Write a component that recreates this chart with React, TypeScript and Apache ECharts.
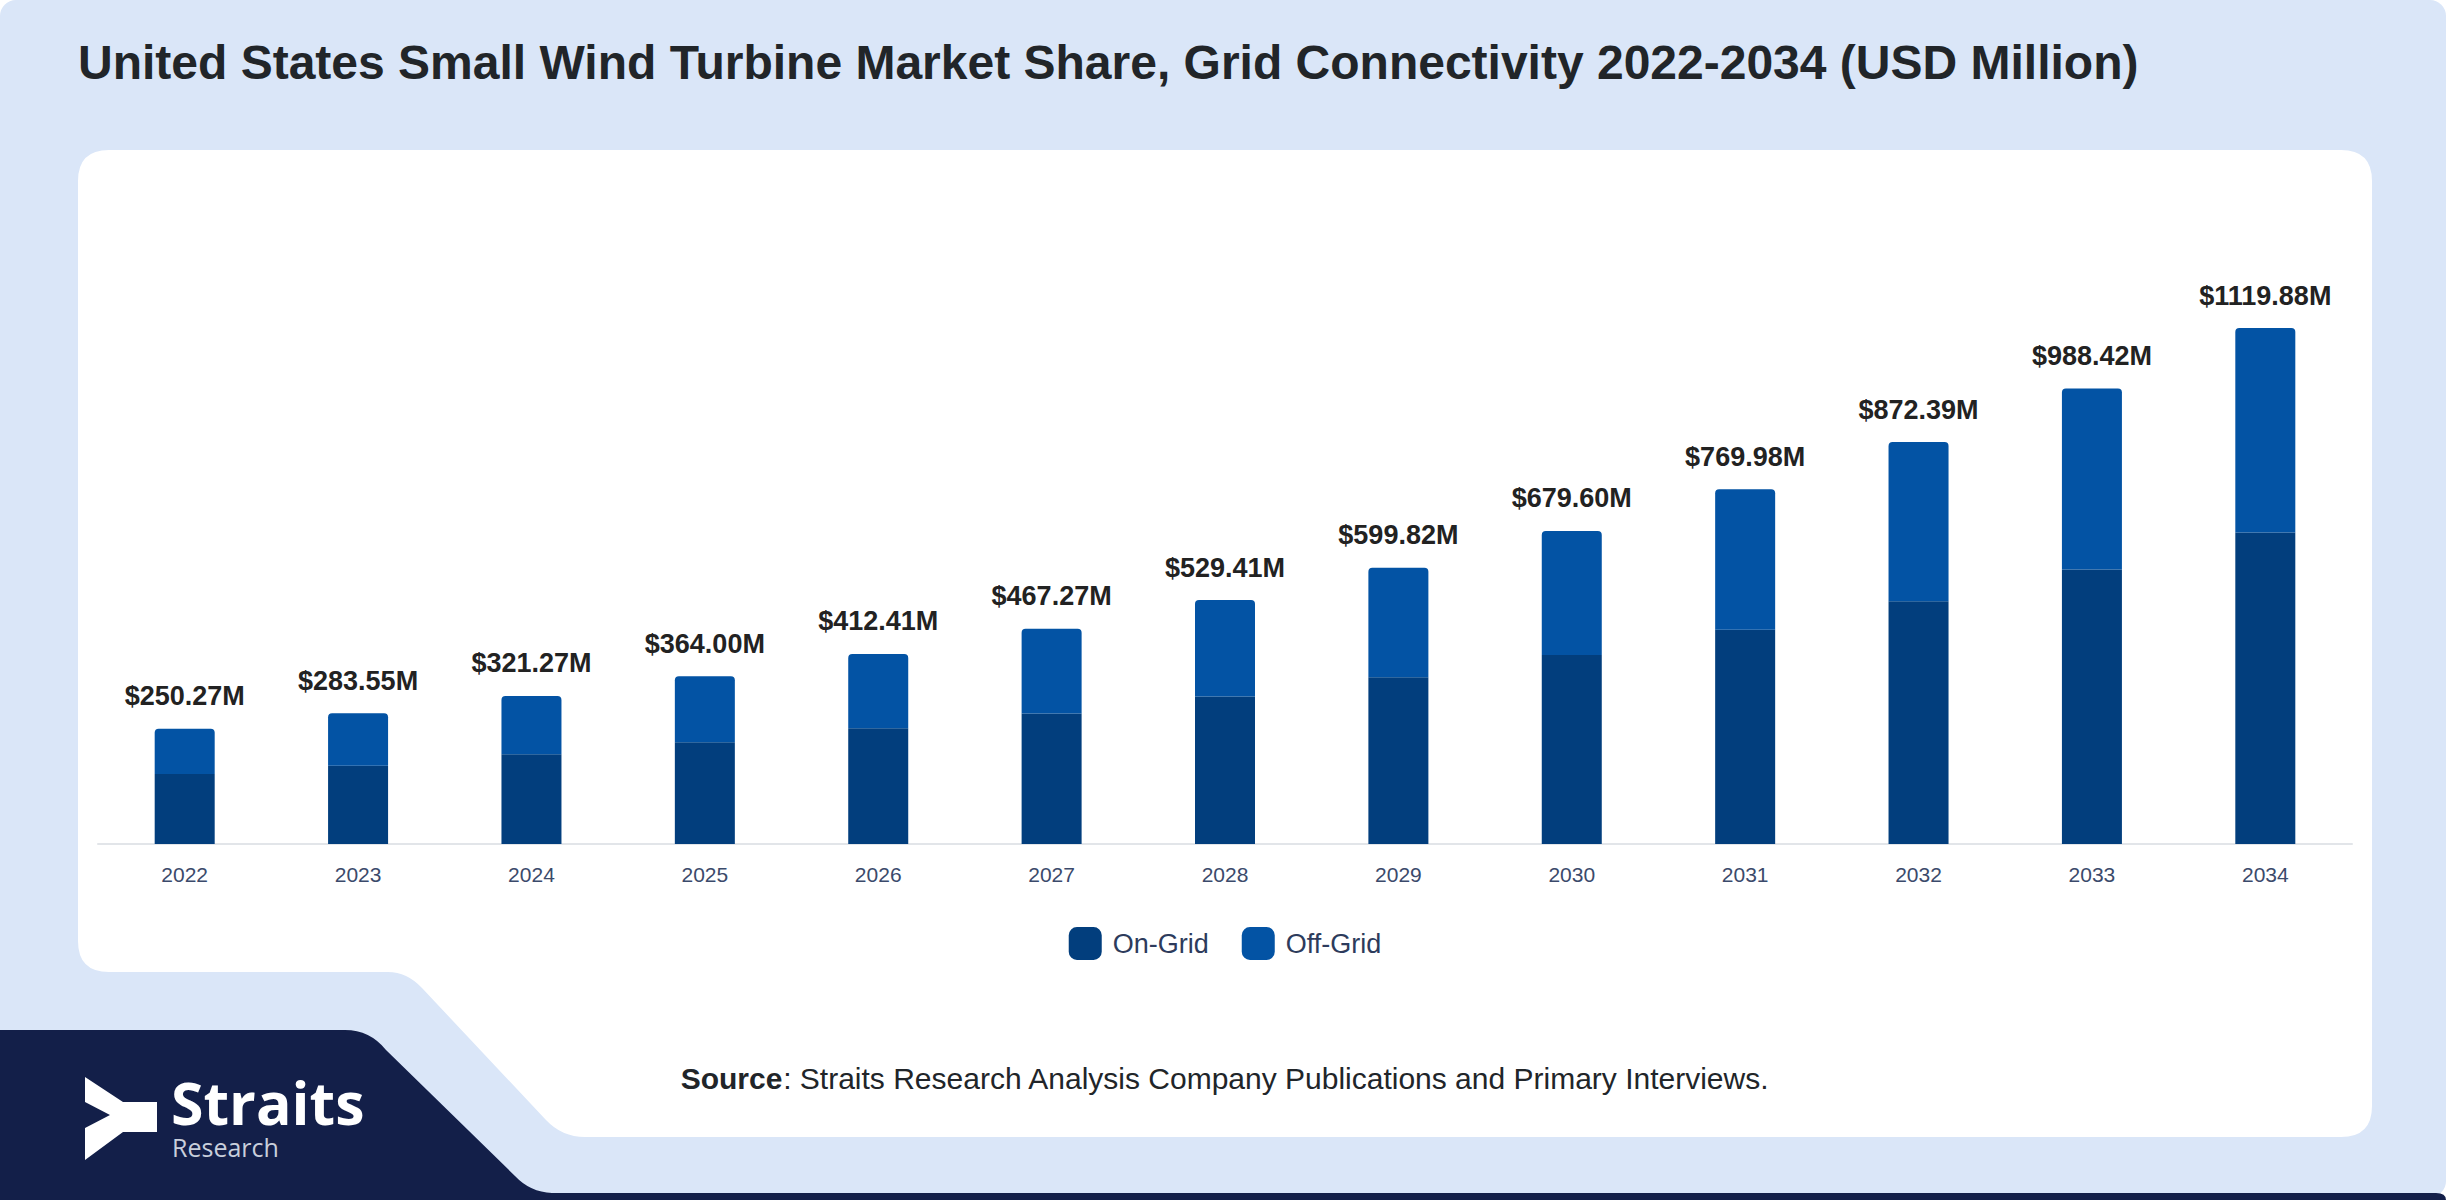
import React, { useEffect, useRef } from "react";
import * as echarts from "echarts";

const years = ["2022","2023","2024","2025","2026","2027","2028","2029","2030","2031","2032","2033","2034"];
const onGrid = [152, 170, 195, 221, 251, 283, 320, 362, 410, 465, 527, 596, 676];
const offGrid = [98.27, 113.55, 126.27, 143.0, 161.41, 184.27, 209.41, 237.82, 269.6, 304.98, 345.39, 392.42, 443.88];
const totals = ["$250.27M","$283.55M","$321.27M","$364.00M","$412.41M","$467.27M","$529.41M","$599.82M","$679.60M","$769.98M","$872.39M","$988.42M","$1119.88M"];
const seriesNames = ["On-Grid", "Off-Grid"];
const titleText = "United States Small Wind Turbine Market Share, Grid Connectivity 2022-2034 (USD Million)";
const sourceText = ": Straits Research Analysis Company Publications and Primary Interviews.";

const CARD_D = "M 109 150 H 2341 Q 2372 150 2372 181 V 1106 Q 2372 1137 2341 1137 H 585 Q 562 1137 546 1120 L 422 988 Q 407 972 388 972 H 109 Q 78 972 78 941 V 181 Q 78 150 109 150 Z";
const NAVY_D = "M 0 1030 H 345 Q 370 1030 386 1050 L 515 1176 Q 530 1192 552 1193 H 2436 Q 2446 1193 2446 1200 H 0 Z";
const ARROW_D = "M 85 1077 L 123 1102 L 157 1102 L 157 1132 L 123 1132 L 85 1160 L 85 1128 L 110 1115 L 85 1102 Z";

let registered = false;
function registerShapes() {
  if (registered) return;
  registered = true;
  echarts.graphic.registerShape("cardShape", echarts.graphic.extendPath(CARD_D, {}));
  echarts.graphic.registerShape("navyShape", echarts.graphic.extendPath(NAVY_D, {}));
  echarts.graphic.registerShape("arrowShape", echarts.graphic.extendPath(ARROW_D, {}));
}

export default function App() {
  const ref = useRef<HTMLDivElement>(null);
  useEffect(() => {
    document.body.style.margin = "0";
    registerShapes();
    const chart = echarts.init(ref.current!, null, { renderer: "svg" });
    chart.setOption({
      animation: false,
      backgroundColor: "#ffffff",
      textStyle: { fontFamily: "Liberation Sans, Arial, sans-serif" },
      graphic: [
        { type: "rect", z: 0, shape: { x: 0, y: 0, width: 2446, height: 1197, r: 16 }, style: { fill: "#dae6f8" } },
        { type: "cardShape", z: 0, x: 0, y: 0, style: { fill: "#ffffff" } },
        { type: "navyShape", z: 0, x: 0, y: 0, style: { fill: "#131f49" } },
        { type: "arrowShape", z: 0, x: 0, y: 0, style: { fill: "#ffffff" } },
        {
          type: "text", z: 0, x: 171, y: 1102,
          style: { text: "Straits", fontFamily: "Open Sans, sans-serif", fontWeight: "bold", fontSize: 59, lineHeight: 46, fill: "#ffffff", align: "left", verticalAlign: "middle" },
        },
        {
          type: "text", z: 0, x: 172, y: 1147,
          style: { text: "Research", fontFamily: "Open Sans, sans-serif", fontSize: 25, lineHeight: 20, fill: "#c9cfdc", align: "left", verticalAlign: "middle" },
        },
        {
          type: "text", z: 0, x: 78, y: 62,
          style: { text: titleText, fontFamily: "Liberation Sans, Arial, sans-serif", fontWeight: "bold", fontSize: 48, fill: "#212529", align: "left", verticalAlign: "middle" },
        },
        {
          type: "text", z: 0, x: 1225, y: 1078,
          style: {
            text: "{b|Source}{n|" + sourceText + "}",
            align: "center", verticalAlign: "middle",
            rich: {
              b: { fontFamily: "Liberation Sans, Arial, sans-serif", fontWeight: "bold", fontSize: 30, fill: "#212529", color: "#212529" },
              n: { fontFamily: "Liberation Sans, Arial, sans-serif", fontSize: 30, fill: "#212529", color: "#212529" },
            },
          },
        },
      ],
      legend: {
        data: seriesNames,
        left: "center",
        top: 922,
        icon: "roundRect",
        itemWidth: 33,
        itemHeight: 33,
        itemGap: 33,
        textStyle: { fontSize: 27, color: "#2d3b5c", fontFamily: "Liberation Sans, Arial, sans-serif", padding: [0, 0, 0, 6] },
      },
      grid: { left: 98, right: 98, top: 199, bottom: 356, containLabel: false },
      xAxis: {
        type: "category",
        data: years,
        axisLine: { lineStyle: { color: "#e2e5e9", width: 2 } },
        axisTick: { show: false },
        axisLabel: { fontSize: 21, color: "#3b4a6b", margin: 20 },
      },
      yAxis: { type: "value", min: 0, max: 1400, show: false, splitLine: { show: false } },
      series: [
        {
          name: seriesNames[0], type: "bar", stack: "total", barWidth: 60,
          data: onGrid, itemStyle: { color: "#023e7d" },
        },
        {
          name: seriesNames[1], type: "bar", stack: "total", barWidth: 60,
          data: offGrid, itemStyle: { color: "#0353a4", borderRadius: [4, 4, 0, 0] },
          label: {
            show: true, position: "top", distance: 19,
            formatter: (p: any) => totals[p.dataIndex],
            fontSize: 27, fontWeight: "bold", color: "#222222",
          },
        },
      ],
    });
    return () => chart.dispose();
  }, []);
  return <div ref={ref} style={{ width: 2450, height: 1200 }} />;
}
